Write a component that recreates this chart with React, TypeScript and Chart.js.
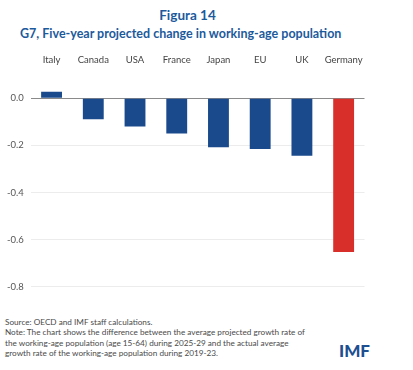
import React, { useEffect, useRef } from "react";
import { Chart, registerables } from "chart.js";

Chart.register(...registerables);

const categories = ["Italy", "Canada", "USA", "France", "Japan", "EU", "UK", "Germany"];
const values = [0.028, -0.089, -0.12, -0.149, -0.208, -0.215, -0.244, -0.653];
const barColors = ["#1a4a8c", "#1a4a8c", "#1a4a8c", "#1a4a8c", "#1a4a8c", "#1a4a8c", "#1a4a8c", "#d92f2a"];
const yTicks = [0, -0.2, -0.4, -0.6, -0.8];

const titleLine1 = "Figura 14";
const titleLine2 = "G7, Five-year projected change in working-age population";
const noteLines = [
  "Source: OECD and IMF staff calculations.",
  "Note: The chart shows the difference between the average projected growth rate of",
  "the working-age population (age 15-64) during 2025-29 and the actual average",
  "growth rate of the working-age population during 2019-23.",
];

export default function App() {
  const ref = useRef<HTMLCanvasElement | null>(null);
  useEffect(() => {
    document.body.style.margin = "0";
    const ctx = ref.current!;
    const chart = new Chart(ctx, {
      type: "bar",
      data: {
        labels: categories,
        datasets: [
          {
            data: values,
            backgroundColor: barColors,
            categoryPercentage: 1,
            barPercentage: 0.5,
          },
        ],
      },
      options: {
        animation: false,
        responsive: false,
        maintainAspectRatio: false,
        layout: { padding: { left: 0, right: 48.5, top: 0, bottom: 18.3 } },
        plugins: { legend: { display: false }, tooltip: { enabled: false } },
        scales: {
          x: {
            position: "top",
            grid: { display: false, drawTicks: false },
            border: { display: false },
            ticks: {
              color: "#444",
              font: { family: "Lato", size: 9.5 },
              padding: 9,
              maxRotation: 0,
            },
            afterFit: (s: any) => {
              s.height = 29.75;
            },
          },
          y: {
            min: -0.8,
            max: 0.1,
            afterBuildTicks: (s: any) => {
              s.ticks = yTicks.map((v) => ({ value: v }));
            },
            afterFit: (s: any) => {
              s.width = 30.7;
            },
            grid: {
              drawTicks: false,
              color: (c: any) => (c.tick && c.tick.value === 0 ? "#8a8a8a" : "#ececec"),
              lineWidth: 1,
            },
            border: { display: false },
            ticks: {
              color: "#555",
              font: { family: "Lato", size: 9.5 },
              padding: 7,
              callback: (v: any) => Number(v).toFixed(1),
            },
          },
        },
      },
    });
    return () => chart.destroy();
  }, []);

  return (
    <div style={{ position: "relative", width: 413, height: 370, background: "#fff", overflow: "hidden" }}>
      <div
        style={{
          position: "absolute",
          top: 6,
          left: 0,
          width: 375,
          textAlign: "center",
          fontFamily: "Lato",
          fontWeight: 700,
          fontSize: 13.5,
          color: "#1c5a9c",
          lineHeight: "18px",
        }}
      >
        {titleLine1}
      </div>
      <div
        style={{
          position: "absolute",
          top: 25,
          left: 20,
          whiteSpace: "nowrap",
          fontFamily: "Lato",
          fontWeight: 700,
          fontSize: 12.5,
          color: "#1c5a9c",
          lineHeight: "18px",
        }}
      >
        {titleLine2}
      </div>
      <canvas ref={ref} width={413} height={260} style={{ position: "absolute", left: 0, top: 45, width: 413, height: 260 }} />
      <div
        style={{
          position: "absolute",
          left: 5,
          top: 316.5,
          fontFamily: "Lato",
          fontSize: 8.2,
          color: "#4a4a4a",
          lineHeight: "10.6px",
          whiteSpace: "nowrap",
        }}
      >
        {noteLines.map((l, i) => (
          <div key={i}>{l}</div>
        ))}
      </div>
      <div
        style={{
          position: "absolute",
          left: 339,
          top: 340,
          fontFamily: "Lato",
          fontWeight: 900,
          fontSize: 17,
          color: "#1d4f91",
          lineHeight: "22px",
        }}
      >
        IMF
      </div>
    </div>
  );
}
